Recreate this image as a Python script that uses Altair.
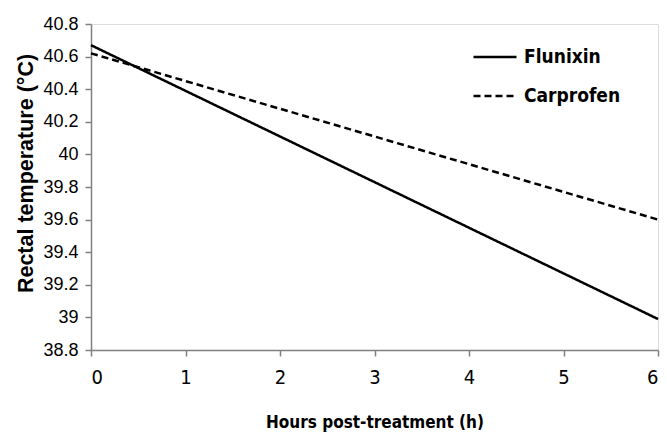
import altair as alt
import pandas as pd

hours = [0, 6]
flunixin = [40.67, 38.99]
carprofen = [40.62, 39.60]
series = ["Flunixin", "Carprofen"]

rows = []
for h, f in zip(hours, flunixin):
    rows.append({"hours": h, "temp": f, "drug": series[0]})
for h, c in zip(hours, carprofen):
    rows.append({"hours": h, "temp": c, "drug": series[1]})
df = pd.DataFrame(rows)

NARROW = "DejaVu Sans Condensed, Liberation Sans"

chart = alt.Chart(df).mark_line(color="black", strokeWidth=2.5).encode(
    x=alt.X("hours:Q",
            scale=alt.Scale(domain=[0, 6], nice=False),
            axis=alt.Axis(title="Hours post-treatment (h)", values=[0, 1, 2, 3, 4, 5, 6],
                          format="d", grid=False, domainColor="#808080", tickColor="#808080",
                          domainWidth=1.5, tickWidth=1.5, tickSize=6, labelPadding=11,
                          labelFont=NARROW, labelFontSize=20, labelColor="black",
                          titleFont=NARROW, titleFontSize=17, titleFontWeight="bold",
                          titleColor="black", titleBaseline="alphabetic", titleY=77)),
    y=alt.Y("temp:Q",
            scale=alt.Scale(domain=[38.8, 40.8], nice=False, zero=False),
            axis=alt.Axis(title="Rectal temperature (°C)", values=[38.8, 39, 39.2, 39.4, 39.6, 39.8, 40, 40.2, 40.4, 40.6, 40.8],
                          format="~g", grid=False, domainColor="#808080", tickColor="#808080",
                          domainWidth=1.5, tickWidth=1.5, tickSize=6, labelPadding=7,
                          labelFont="Liberation Sans", labelFontSize=18, labelColor="black",
                          titleFont="Liberation Sans", titleFontSize=21.5, titleFontWeight="bold",
                          titleColor="black", titleAngle=-90, titleBaseline="alphabetic",
                          titleAlign="center", titleX=-59, titleY=149)),
    strokeDash=alt.StrokeDash("drug:N",
                              scale=alt.Scale(domain=series, range=[[1, 0], [7, 4]]),
                              legend=alt.Legend(title=None, orient="none", legendX=381, legendY=10,
                                                symbolType="stroke", symbolSize=1849,
                                                symbolStrokeWidth=2.5, symbolStrokeColor="black",
                                                labelFont=NARROW, labelFontSize=19,
                                                labelFontWeight="bold", labelColor="black",
                                                labelOffset=6, rowPadding=6)),
).properties(
    width=567, height=326,
    autosize=alt.AutoSizeParams(type="none"),
    padding={"left": 91, "top": 24, "right": 9, "bottom": 83},
).configure_view(stroke=None).configure(background="white")

chart.save("out.html", embed_options={"renderer": "svg", "actions": False})
